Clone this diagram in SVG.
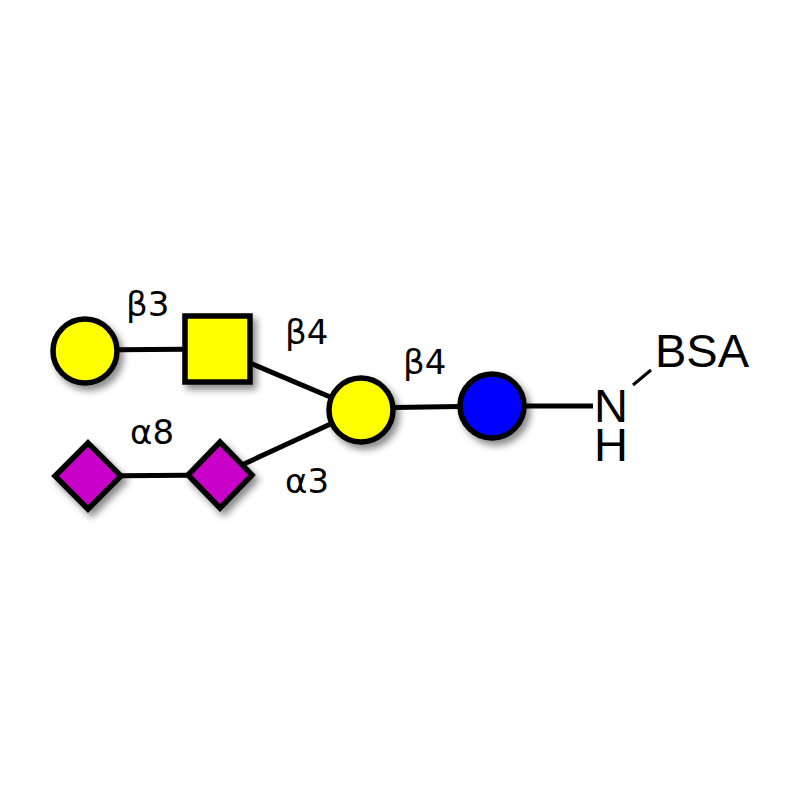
<svg xmlns="http://www.w3.org/2000/svg" width="800" height="800" viewBox="0 0 800 800">
  <defs>
    <filter id="sh" x="-30%" y="-30%" width="170%" height="170%">
      <feDropShadow dx="4" dy="5" stdDeviation="3.5" flood-color="#000" flood-opacity="0.45"/>
    </filter>
  </defs>
  <style>
    .sym { stroke: #000; stroke-width: 5.5; filter: url(#sh); }
    .gal { fill: #ffff00; }
    .glc { fill: #0000ff; }
    .sia { fill: #c800c8; }
    .link { stroke: #000; stroke-width: 5; fill: none; }
    .lbl { font-family: "DejaVu Sans", sans-serif; font-size: 34px; fill: #000; }
    .atom { font-family: "Liberation Sans", Arial, sans-serif; font-size: 47px; fill: #000; }
  </style>
  <rect width="800" height="800" fill="#fff"/>
  <g id="connectors">
    <line class="link" x1="85" y1="350" x2="217" y2="349"/>
    <line class="link" x1="217" y1="349" x2="361" y2="410"/>
    <line class="link" x1="88" y1="476" x2="220" y2="475"/>
    <line class="link" x1="220" y1="475" x2="361" y2="410"/>
    <line class="link" x1="361" y1="408" x2="492" y2="406"/>
    <line class="link" x1="492" y1="406" x2="593" y2="406"/>
    <line stroke="#000" stroke-width="3" x1="633" y1="385" x2="651" y2="370"/>
  </g>
  <g id="gal-terminal">
    <circle class="sym gal" cx="85" cy="351" r="32"/>
  </g>
  <g id="galnac">
    <rect class="sym gal" x="185" y="316" width="65" height="66"/>
  </g>
  <g id="sia-terminal">
    <polygon class="sym sia" points="88,443 121,476 88,509 55,476"/>
  </g>
  <g id="sia-inner">
    <polygon class="sym sia" points="220,442 252,475 220,508 188,475"/>
  </g>
  <g id="gal-core">
    <circle class="sym gal" cx="361" cy="410" r="32"/>
  </g>
  <g id="glc">
    <circle class="sym glc" cx="492" cy="406" r="32"/>
  </g>
  <g id="labels">
    <text class="lbl" x="126" y="316">β3</text>
    <text class="lbl" x="285" y="344">β4</text>
    <text class="lbl" x="130" y="444">α8</text>
    <text class="lbl" x="285" y="493">α3</text>
    <text class="lbl" x="403" y="374">β4</text>
  </g>
  <g id="aglycone">
    <text class="atom"><tspan x="594" y="422">N</tspan><tspan x="594" y="461">H</tspan></text>
    <text class="atom" x="655" y="367">BSA</text>
  </g>
</svg>
